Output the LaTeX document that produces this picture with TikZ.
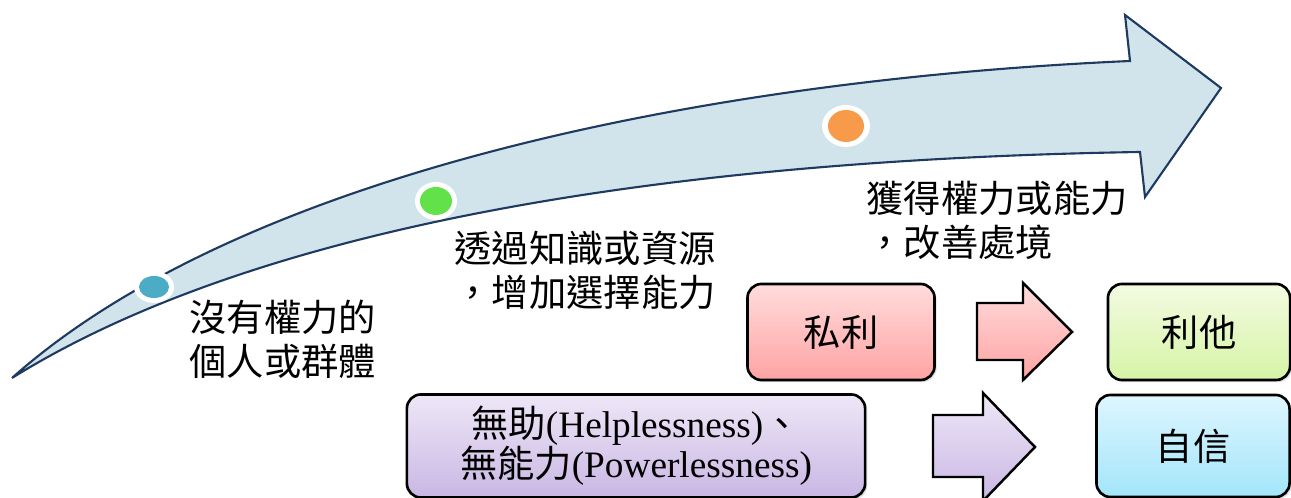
\documentclass[tikz,border=0pt]{standalone}
\usepackage{fontspec}
\setmainfont{Liberation Serif}
\newfontfamily\cjkfont{Noto Sans CJK TC}
\usetikzlibrary{shadows}
\definecolor{pathfill}{RGB}{209,227,235}
\definecolor{pathline}{RGB}{31,58,96}
\definecolor{dotteal}{RGB}{75,172,198}
\definecolor{dotgreen}{RGB}{98,225,75}
\definecolor{dotorange}{RGB}{247,154,74}
\definecolor{pinktop}{RGB}{255,220,220}
\definecolor{pinkbot}{RGB}{255,163,163}
\definecolor{greentop}{RGB}{243,251,226}
\definecolor{greenbot}{RGB}{214,244,166}
\definecolor{bluetop}{RGB}{222,246,255}
\definecolor{bluebot}{RGB}{163,229,250}
\definecolor{purpletop}{RGB}{238,231,247}
\definecolor{purplebot}{RGB}{201,183,228}

\tikzset{
  stagelabel/.style={align=left, anchor=west, inner sep=0pt},
  box/.style={draw, line width=0.75pt, rounded corners=4pt, align=center,
    drop shadow={shadow xshift=0.6pt, shadow yshift=-0.6pt, opacity=0.25}},
  blockarrow/.style={draw, line width=0.7pt, line join=miter}
}

\begin{document}
\begin{tikzpicture}[x=0.01cm, y=-0.01cm,
    font=\cjkfont\fontsize{10.6}{12.5}\selectfont]
    \useasboundingbox (0,0) rectangle (1291,498);

    % rising path
    \draw[fill=pathfill, draw=pathline, line width=0.6pt]
      (12,378) .. controls (240,175) and (700,80) .. (1130,61)
      -- (1125,15) -- (1221,88) -- (1145,197) -- (1140,152)
      .. controls (650,160) and (250,230) .. (12,378) -- cycle;

    % stage dots
    \fill[white] (154,287) ellipse [x radius=20, y radius=16];
    \fill[dotteal] (154,287) ellipse [x radius=15, y radius=11];
    \fill[white] (436,201) ellipse [x radius=21, y radius=19];
    \fill[dotgreen] (436,201) ellipse [x radius=16, y radius=14];
    \fill[white] (846,126) ellipse [x radius=24, y radius=21];
    \fill[dotorange] (846,126) ellipse [x radius=18, y radius=16];

    \node[stagelabel] (nopower) at (189,339) {沒有權力的\\個人或群體};
    \node[stagelabel] (choice) at (454,270) {透過知識或資源\\，增加選擇能力};
    \node[stagelabel] (gain) at (866,220) {獲得權力或能力\\，改善處境};

    % boxes
    \node[box, top color=pinktop, bottom color=pinkbot,
      minimum width=1.87cm, minimum height=0.96cm] (self) at (841,332) {私利};
    \node[box, top color=greentop, bottom color=greenbot,
      minimum width=1.82cm, minimum height=0.96cm] (others) at (1199,332) {利他};
    \node[box, top color=purpletop, bottom color=purplebot,
      minimum width=4.58cm, minimum height=1.02cm,
      font=\rmfamily\fontsize{10.6}{11.4}\selectfont] (helpless) at (636,446)
      {{\cjkfont 無助}(Helplessness){\cjkfont 、}\\{\cjkfont 無能力}(Powerlessness)};
    \node[box, top color=bluetop, bottom color=bluebot,
      minimum width=1.93cm, minimum height=1.02cm] (confid) at (1193,446) {自信};

    % block arrows
    \draw[blockarrow, top color=pinktop, bottom color=pinkbot]
      (977,303) -- (1023,303) -- (1023,283) -- (1072,332)
      -- (1023,380) -- (1023,360) -- (977,360) -- cycle;
    \draw[blockarrow, top color=purpletop, bottom color=purplebot]
      (933,415) -- (983,415) -- (983,393) -- (1035,447)
      -- (983,501) -- (983,477) -- (933,477) -- cycle;
\end{tikzpicture}
\end{document}
